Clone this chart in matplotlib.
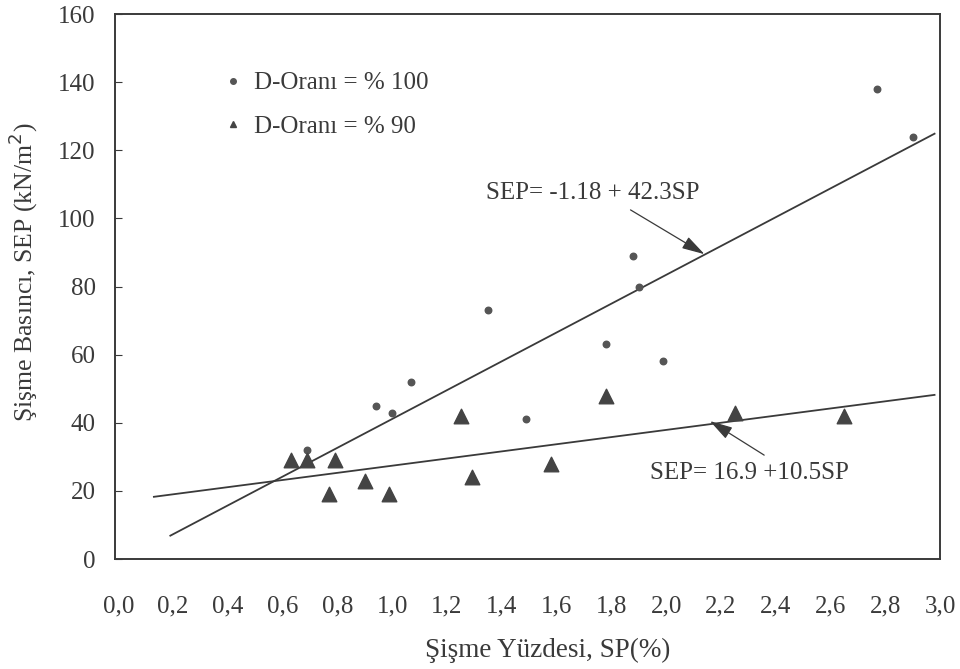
import matplotlib
matplotlib.use("Agg")
import matplotlib.pyplot as plt
from matplotlib.lines import Line2D

plt.rcParams['font.family'] = ['Liberation Serif', 'DejaVu Serif']

# D-Oranı = % 100 (circles)
sp_100 = [0.69, 0.94, 1.00, 1.07, 1.35, 1.49, 1.78, 1.88, 1.90, 1.99, 2.77, 2.90]
sep_100 = [32, 45, 43, 52, 73, 41, 63, 89, 80, 58, 138, 124]

# D-Oranı = % 90 (triangles)
sp_90 = [0.63, 0.69, 0.77, 0.79, 0.90, 0.99, 1.25, 1.29, 1.58, 1.78, 2.25, 2.65]
sep_90 = [29, 29, 19, 29, 23, 19, 42, 24, 28, 48, 43, 42]

# regression lines (drawn range)
fit_100_x = [0.19, 2.98]
fit_100 = (-1.18, 42.3)
fit_90_x = [0.13, 2.98]
fit_90 = (16.9, 10.5)

x_ticks = [0.0, 0.2, 0.4, 0.6, 0.8, 1.0, 1.2, 1.4, 1.6, 1.8, 2.0, 2.2, 2.4, 2.6, 2.8, 3.0]
y_ticks = [0, 20, 40, 60, 80, 100, 120, 140, 160]

ink = '#3a3a3a'
arrow = dict(arrowstyle='-|>,head_length=0.7,head_width=0.2', color=ink, lw=0.9,
             mutation_scale=20, shrinkA=0, shrinkB=0)

fig = plt.figure(figsize=(9.6, 6.69), dpi=100)
ax = fig.add_axes([0.1198, 0.1644, 0.8594, 0.8146])

ax.scatter(sp_100, sep_100, s=22, marker='o', color='#555555', zorder=3)
ax.scatter(sp_90, sep_90, s=110, marker='^', color='#444444', zorder=3)

ax.plot(fit_100_x, [fit_100[0] + fit_100[1] * x for x in fit_100_x], color=ink, lw=1.3)
ax.plot(fit_90_x, [fit_90[0] + fit_90[1] * x for x in fit_90_x], color=ink, lw=1.3)

# equation labels with arrows
ax.text(1.343, 107.5, 'SEP= -1.18 + 42.3SP', fontsize=18, color=ink, va='center', ha='left')
ax.annotate('', xy=(2.14, 89.5), xytext=(1.87, 102.5), arrowprops=arrow)
ax.text(1.94, 25.2, 'SEP= 16.9 +10.5SP', fontsize=18, color=ink, va='center', ha='left')
ax.annotate('', xy=(2.16, 40.5), xytext=(2.358, 30.5), arrowprops=arrow)

handles = [Line2D([], [], ls='none', marker='o', ms=4, color='#555555'),
           Line2D([], [], ls='none', marker='^', ms=5, color='#444444')]
ax.legend(handles, ['D-Oranı = % 100', 'D-Oranı = % 90'], loc='upper left',
          bbox_to_anchor=(0.10, 0.935), frameon=False, fontsize=18,
          handlelength=1.0, handletextpad=0.35, labelspacing=0.85, labelcolor=ink)

ax.set_xlim(-0.012, 3.0)
ax.set_ylim(0, 160)
ax.set_xticks(x_ticks)
ax.set_xticklabels([f'{v:.1f}'.replace('.', ',') for v in x_ticks])
ax.set_yticks(y_ticks)
ax.tick_params(axis='x', direction='in', length=0, pad=26, labelsize=18, labelcolor=ink)
ax.tick_params(axis='y', direction='in', length=5, pad=14, labelsize=18, labelcolor=ink, color=ink)
for sp in ax.spines.values():
    sp.set_color(ink)
    sp.set_linewidth(1.4)

ax.set_xlabel('Şişme Yüzdesi, SP(%)', fontsize=19.5, color=ink)
ax.set_ylabel('Şişme Basıncı, SEP (kN/m$^2$)', fontsize=18.5, color=ink)
ax.xaxis.set_label_coords(0.524, -0.145)
ax.yaxis.set_label_coords(-0.091, 0.527)

fig.savefig('out.png', dpi=100)
